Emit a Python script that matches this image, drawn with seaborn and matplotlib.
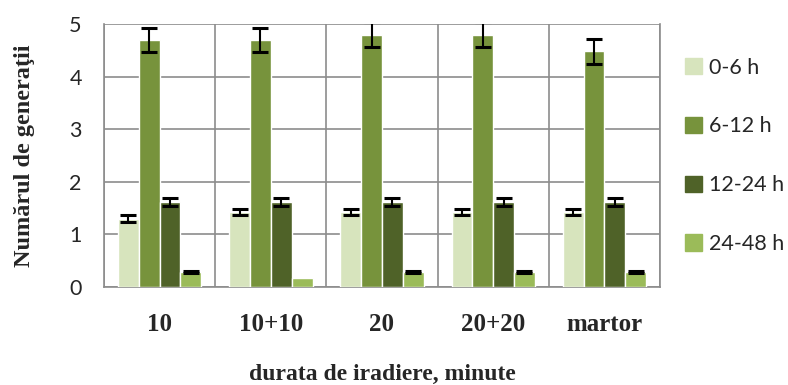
import numpy as np
import pandas as pd
import seaborn as sns
import matplotlib
matplotlib.use("Agg")
import matplotlib.pyplot as plt
from matplotlib.ticker import FixedLocator

# date
categories = ['10', '10+10', '20', '20+20', 'martor']
intervals = ['0-6 h', '6-12 h', '12-24 h', '24-48 h']
v_0_6 = [1.30, 1.42, 1.42, 1.42, 1.42]
v_6_12 = [4.70, 4.70, 4.80, 4.80, 4.48]
v_12_24 = [1.62, 1.62, 1.62, 1.62, 1.62]
v_24_48 = [0.28, 0.18, 0.28, 0.28, 0.28]
e_0_6 = [0.06, 0.06, 0.06, 0.06, 0.06]
e_6_12 = [0.23, 0.23, 0.23, 0.23, 0.24]
e_12_24 = [0.08, 0.08, 0.08, 0.08, 0.08]
e_24_48 = [0.02, 0.0, 0.02, 0.02, 0.02]
colors = ['#D7E4BD', '#77933C', '#4F6228', '#9BBB59']

values = [v_0_6, v_6_12, v_12_24, v_24_48]
errors = [e_0_6, e_6_12, e_12_24, e_24_48]

rows = []
for lab, vals, errs in zip(intervals, values, errors):
    for c, v, e in zip(categories, vals, errs):
        rows.append({'durata': c, 'interval': lab, 'val': v, 'err': e})
df = pd.DataFrame(rows)

sns.set_style("white")
plt.rcParams['font.family'] = ['Lato', 'DejaVu Sans']

fig = plt.figure(figsize=(7.88, 3.85), dpi=100)
ax = fig.add_axes([104/788, 1-287/385, (660-104)/788, (287-24)/385])

sns.barplot(data=df, x='durata', y='val', hue='interval', order=categories,
            hue_order=intervals, palette=colors, width=0.75, errorbar=None,
            saturation=1, legend=False, ax=ax, zorder=3)

# bare de eroare
bar_conts = list(ax.containers)
for j, cont in enumerate(bar_conts):
    for p, e in zip(cont.patches, errors[j]):
        if e <= 0:
            continue
        ax.errorbar(p.get_x() + p.get_width()/2, p.get_height(), yerr=e,
                    fmt='none', ecolor='black', elinewidth=1.5, capsize=5.5,
                    capthick=2.2, zorder=4)

gc = '#8C8C8C'
ax.set_ylim(0, 5)
ax.set_xlim(-0.5, len(categories) - 0.5)
ax.set_yticks([0, 1, 2, 3, 4, 5])
ax.xaxis.set_minor_locator(FixedLocator(np.arange(-0.5, len(categories), 1)))
ax.grid(axis='y', color=gc, linewidth=1.2, zorder=0)
ax.grid(axis='x', which='minor', color=gc, linewidth=1.2, zorder=0)
ax.grid(axis='x', which='major', visible=False)
ax.set_axisbelow(True)
for s in ax.spines.values():
    s.set_color(gc)
    s.set_linewidth(1.2)
ax.spines['top'].set_visible(False)

ax.tick_params(axis='x', which='major', length=0, pad=19)
ax.tick_params(axis='x', which='minor', length=6, width=2, color=gc, direction='out')
ax.tick_params(axis='y', length=6, width=1.2, color=gc, pad=10, labelsize=15.5)
for t in ax.get_xticklabels():
    t.set_fontfamily('Liberation Serif')
    t.set_fontweight('bold')
    t.set_fontsize(18)

ax.set_xlabel('durata de iradiere, minute', family='Liberation Serif',
              fontweight='bold', fontsize=17, labelpad=20)
ax.set_ylabel('Numărul de generaţii', family='Liberation Serif',
              fontweight='bold', fontsize=17.5, labelpad=25)

handles = [plt.Rectangle((0, 0), 1, 1, color=c) for c in colors]
fig.legend(handles, intervals, loc='upper left', bbox_to_anchor=(0.855, 0.878),
           frameon=False, fontsize=15.5, handlelength=0.8, handleheight=0.8,
           handletextpad=0.35, labelspacing=1.8, borderpad=0)

fig.savefig('out.png', dpi=100)
